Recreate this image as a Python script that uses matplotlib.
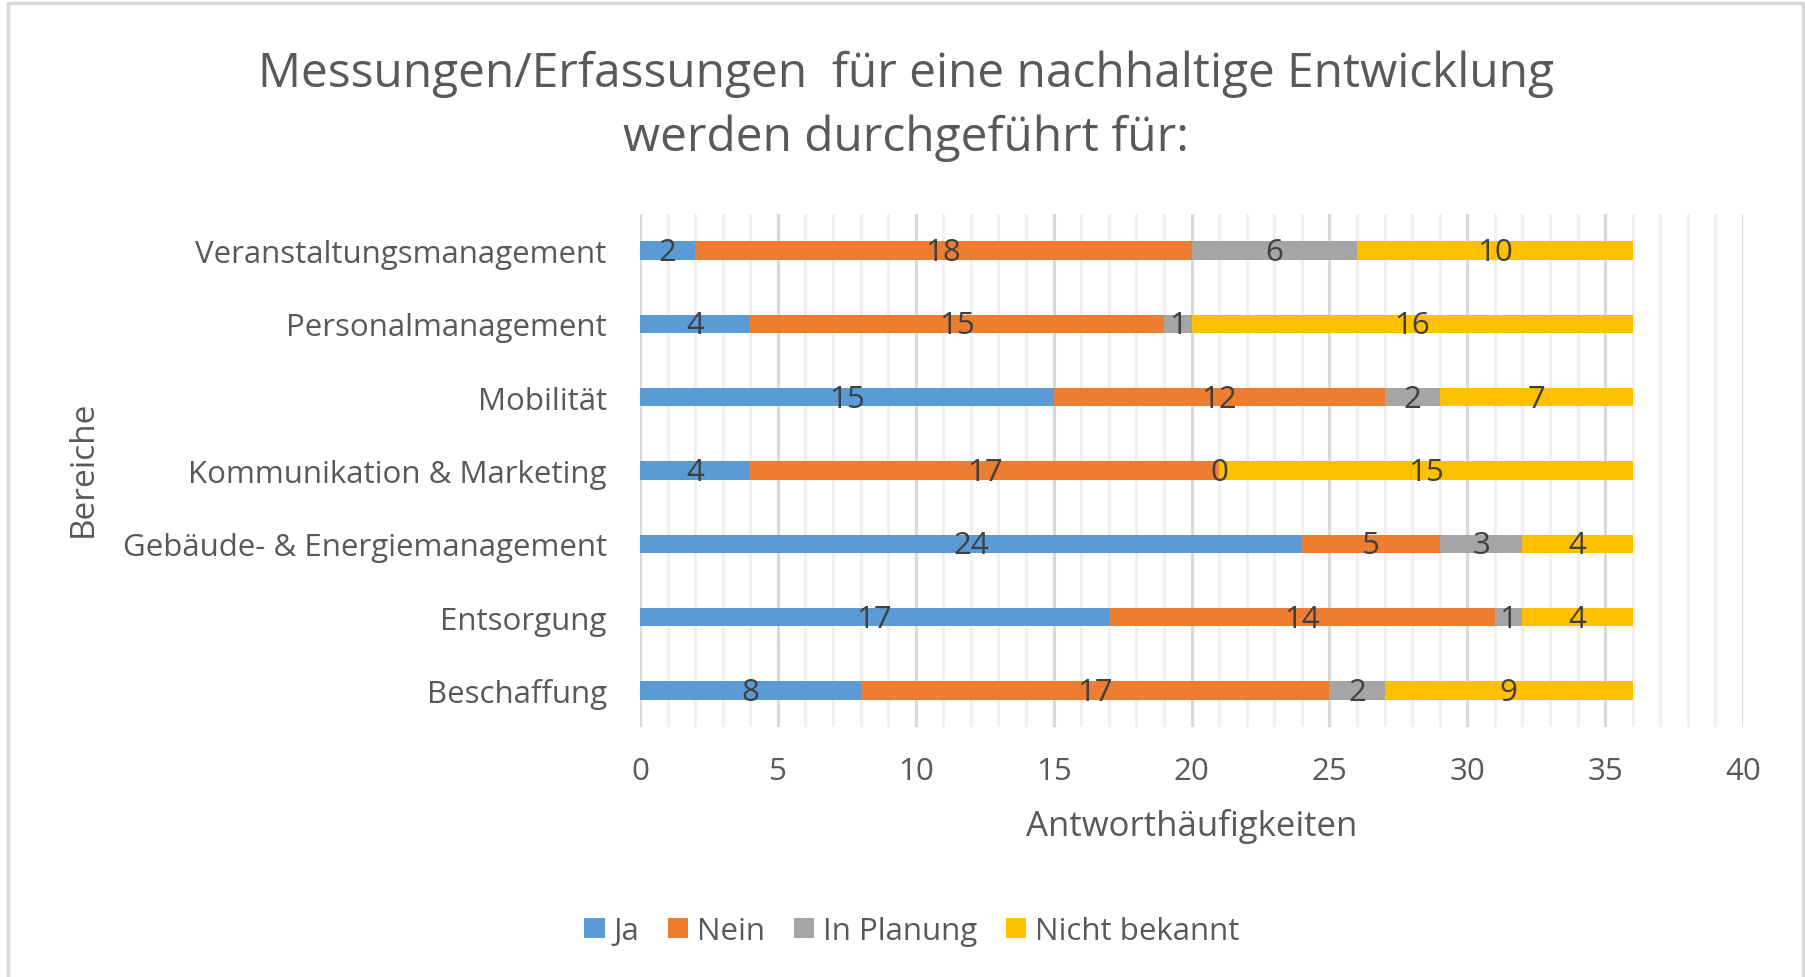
import matplotlib.pyplot as plt
from matplotlib.patches import Rectangle
from matplotlib.ticker import MultipleLocator
import numpy as np

# =============================================================================
# data (bottom -> top, as drawn)
categories = [
    "Beschaffung",
    "Entsorgung",
    "Gebäude- & Energiemanagement",
    "Kommunikation & Marketing",
    "Mobilität",
    "Personalmanagement",
    "Veranstaltungsmanagement",
]
ja = [8, 17, 24, 4, 15, 4, 2]
nein = [17, 14, 5, 17, 12, 15, 18]
in_planung = [2, 1, 3, 0, 2, 1, 6]
nicht_bekannt = [9, 4, 4, 15, 7, 16, 10]
series_names = ["Ja", "Nein", "In Planung", "Nicht bekannt"]
xticks = [0, 5, 10, 15, 20, 25, 30, 35, 40]
# =============================================================================

colors = ["#5B9BD5", "#ED7D31", "#A5A5A5", "#FFC000"]
text_col = "#595959"
label_col = "#404040"
plt.rcParams["font.family"] = ["Open Sans", "DejaVu Sans"]

W, H = 1806, 978
fig = plt.figure(figsize=(W / 100, H / 100), dpi=100)
fig.patches.append(Rectangle((8 / W, -0.01), (1803 - 8) / W, 1.0 - 4 / H + 0.01,
                             transform=fig.transFigure, fill=False,
                             edgecolor="#d9d9d9", lw=2.5))

ax = fig.add_axes([640 / W, 1 - 728 / H, (1743 - 640) / W, (728 - 215) / H])

y = np.arange(len(categories))
left = np.zeros(len(categories))
for name, vals, c in zip(series_names, [ja, nein, in_planung, nicht_bekannt], colors):
    vals = np.array(vals, dtype=float)
    ax.barh(y, vals, left=left, height=0.25, color=c, label=name, zorder=3)
    for yi, l, v in zip(y, left, vals):
        ax.text(l + v / 2, yi - 0.02, f"{int(v)}", ha="center", va="center",
                fontsize=22.5, color=label_col, zorder=4)
    left += vals

ax.set_xlim(0, 40)
ax.set_ylim(-0.5, len(categories) - 0.5)
ax.set_xticks(xticks)
ax.xaxis.set_minor_locator(MultipleLocator(1))
ax.grid(axis="x", which="major", color="#d9d9d9", lw=2.2, zorder=0)
ax.grid(axis="x", which="minor", color="#f0f0f0", lw=2.2, zorder=0)
for s in ax.spines.values():
    s.set_visible(False)
ax.tick_params(axis="both", which="both", length=0)
ax.tick_params(axis="x", labelsize=22.5, labelcolor=text_col, pad=21)
ax.tick_params(axis="y", labelsize=22.5, labelcolor=text_col, pad=24)
ax.set_yticks(y)
ax.set_yticklabels(categories)

ax.set_xlabel("Antworthäufigkeiten", fontsize=25, color=text_col, labelpad=16)
fig.text(83 / W, 1 - 469 / H, "Bereiche", rotation=90, ha="center", va="center",
         fontsize=24, color=text_col)

fig.text(906 / W, 1 - 74 / H, "Messungen/Erfassungen  für eine nachhaltige Entwicklung",
         ha="center", va="center", fontsize=34.5, color=text_col)
fig.text(906 / W, 1 - 138 / H, "werden durchgeführt für:",
         ha="center", va="center", fontsize=34.5, color=text_col)

handles, labels = ax.get_legend_handles_labels()
fig.legend(handles, labels, loc="center", bbox_to_anchor=(912 / W, 1 - 932 / H),
           ncol=4, frameon=False, fontsize=22.5, labelcolor=text_col,
           handlelength=0.65, handleheight=0.65, handletextpad=0.3, columnspacing=0.9)

fig.savefig("out.png", dpi=100)
